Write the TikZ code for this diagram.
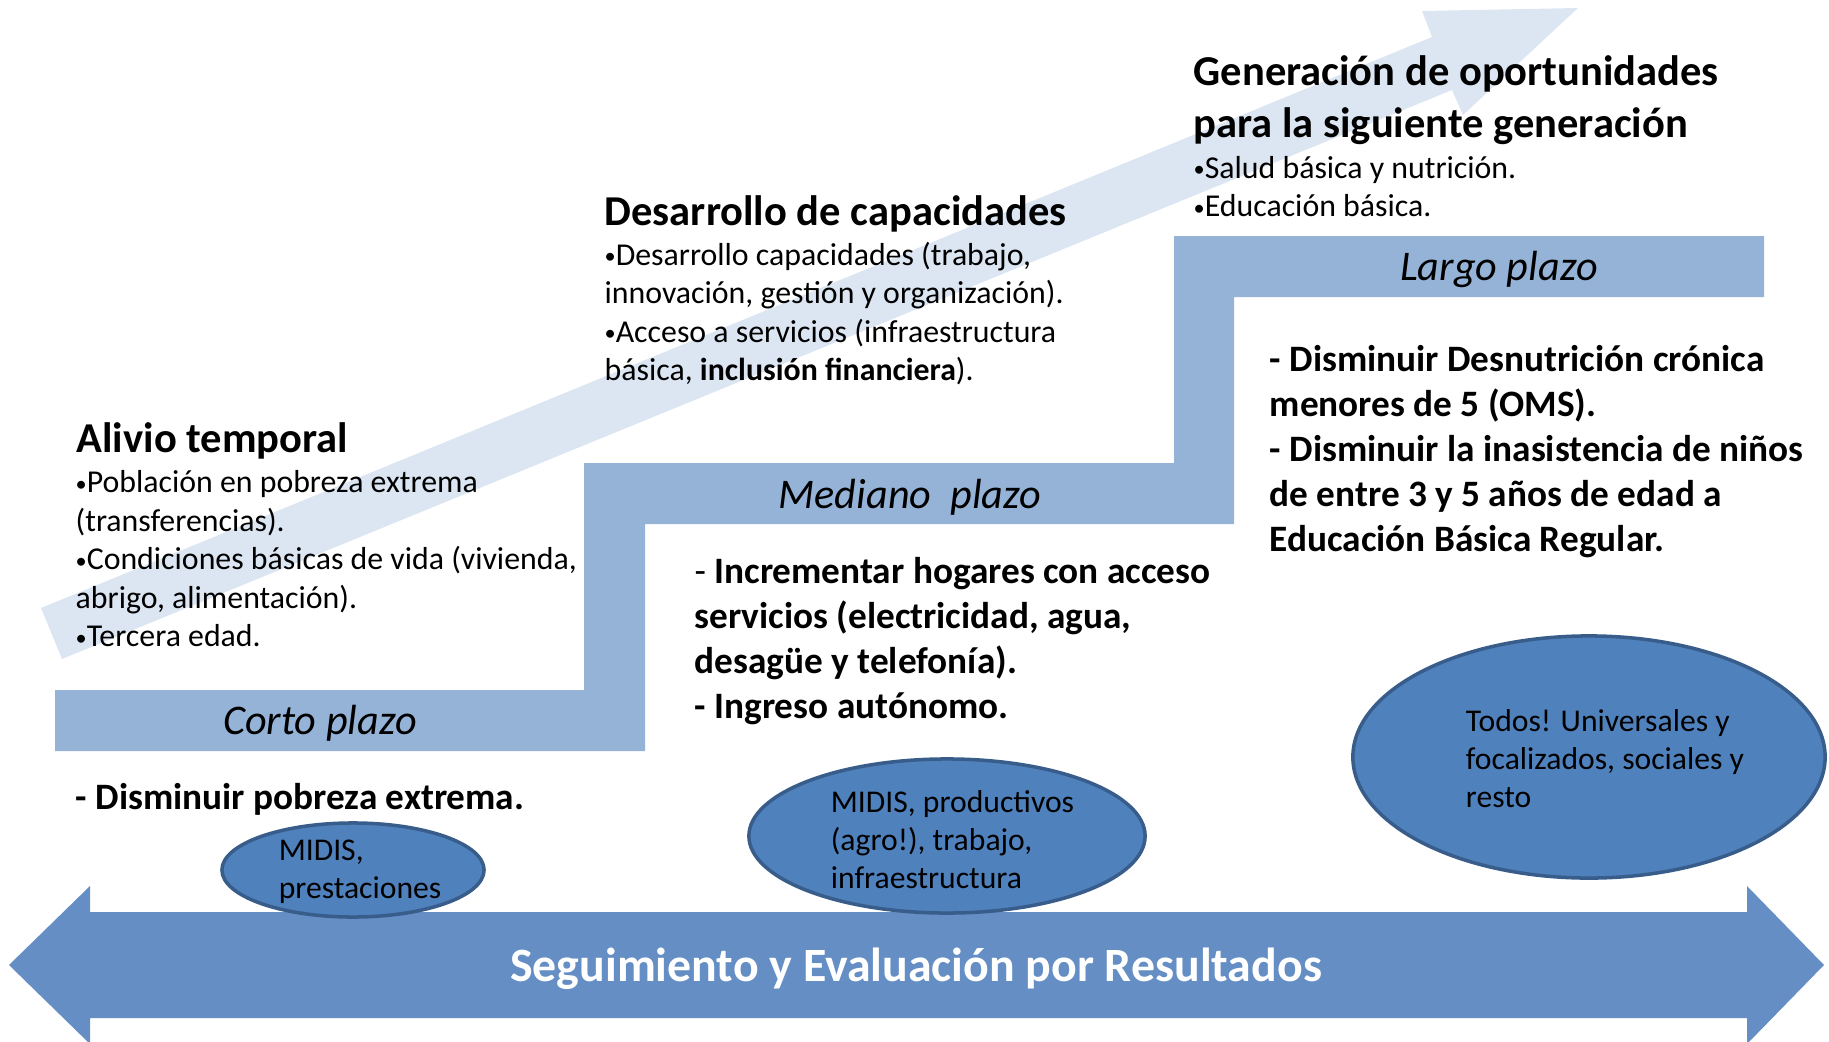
\documentclass[tikz,border=0pt]{standalone}
\usepackage{fontspec}
\setmainfont{Carlito}
\usetikzlibrary{shapes.geometric}

\definecolor{arrowpale}{RGB}{220,230,242}
\definecolor{stepblue}{RGB}{149,179,215}
\definecolor{ovalblue}{RGB}{79,129,189}
\definecolor{ovaledge}{RGB}{56,93,138}
\definecolor{barblue}{RGB}{101,142,196}

\newcommand{\itemdot}{\raisebox{.05em}{\scalebox{.7}{•}}}

\begin{document}
\begin{tikzpicture}[x=0.01cm,y=-0.01cm,
    heading/.style={anchor=north west,inner sep=0,align=left,font=\fontsize{12.1}{15}\selectfont\bfseries},
    items/.style={anchor=north west,inner sep=0,align=left,font=\fontsize{9.05}{10.95}\selectfont},
    goals/.style={anchor=north west,inner sep=0,align=left,font=\fontsize{10.6}{12.8}\selectfont\bfseries},
    term/.style={inner sep=0,font=\fontsize{12}{14}\selectfont\itshape},
    oval/.style={ellipse,draw=ovaledge,line width=1pt,fill=ovalblue,inner sep=0},
    ovaltext/.style={inner sep=0,align=left,font=\fontsize{9}{10.8}\selectfont}]
      \useasboundingbox (0,0) rectangle (1829,1042);

      % rising arrow behind everything
      \fill[arrowpale] (41,608) -- (1432,37) -- (1422,11) -- (1578,8) -- (1463,115)
        -- (1452,90) -- (62,659) -- cycle;

      % the three steps
      \fill[stepblue] (55,690) -- (584,690) -- (584,463) -- (1174,463) -- (1174,236)
        -- (1764,236) -- (1764,297) -- (1234,297) -- (1234,524) -- (645,524)
        -- (645,751) -- (55,751) -- cycle;
      \node[term] (corto) at (320,723.5) {Corto plazo};
      \node[term] (mediano) at (910,497.5) {Mediano\ \ plazo};
      \node[term] (largo) at (1499,269.5) {Largo plazo};

      % what each stage does
      \node[heading] (alivio) at (76,421.5) {Alivio temporal};
      \node[items] (alivioList) at (75,470) {\itemdot Población en pobreza extrema\\(transferencias).\\\itemdot Condiciones básicas de vida (vivienda,\\abrigo, alimentación).\\\itemdot Tercera edad.};
      \node[heading] (desarrollo) at (604,194.5) {Desarrollo de capacidades};
      \node[items] (desarrolloList) at (604,241.5) {\itemdot Desarrollo capacidades (trabajo,\\innovación, gestión y organización).\\\itemdot Acceso a servicios (infraestructura\\básica, \textbf{inclusión financiera}).};
      \node[heading] (generacion) at (1193,54.5) {Generación de oportunidades\\para la siguiente generación};
      \node[items] (generacionList) at (1193,155.5) {\itemdot Salud básica y nutrición.\\\itemdot Educación básica.};

      % goals under each step
      \node[goals] (cortoGoals) at (75,783) {- Disminuir pobreza extrema.};
      \node[goals] (medianoGoals) at (694,556.5) {{\mdseries -} Incrementar hogares con acceso\\servicios (electricidad, agua,\\desagüe y telefonía).\\- Ingreso autónomo.};
      \node[goals] (largoGoals) at (1269,344.5) {- Disminuir Desnutrición crónica\\menores de 5 (OMS).\\- Disminuir la inasistencia de niños\\de entre 3 y 5 años de edad a\\Educación Básica Regular.};

      % follow-up bar
      \fill[barblue] (9,965) -- (90,886) -- (90,912) -- (1747,912) -- (1747,886) -- (1824,965)
        -- (1747,1044) -- (1747,1018) -- (90,1018) -- (90,1044) -- cycle;
      \node[text=white,font=\fontsize{13.6}{16}\selectfont\bfseries] (seguimiento) at (916,969) {Seguimiento y Evaluación por Resultados};

      % who is in charge
      \node[oval,minimum width=2.62cm,minimum height=0.94cm] (midis) at (353,870) {};
      \node[ovaltext] (midisText) at ([xshift=0.07cm,yshift=-0.02cm]midis.center) {MIDIS,\\prestaciones};
      \node[oval,minimum width=3.96cm,minimum height=1.54cm] (productivos) at (947,836) {};
      \node[ovaltext] (productivosText) at ([xshift=0.055cm,yshift=-0.035cm]productivos.center) {MIDIS, productivos\\(agro!), trabajo,\\infraestructura};
      \node[oval,minimum width=4.72cm,minimum height=2.42cm] (todos) at (1589,757) {};
      \node[ovaltext] (todosText) at ([xshift=0.16cm,yshift=-0.015cm]todos.center) {Todos! Universales y\\focalizados, sociales y\\resto};
    \end{tikzpicture}
\end{document}
